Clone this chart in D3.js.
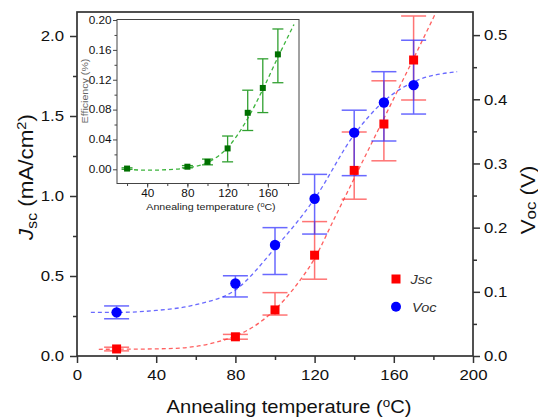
<!DOCTYPE html>
<html>
<head>
<meta charset="utf-8">
<script src="https://cdn.jsdelivr.net/npm/d3@7"></script>
<style>
  body { margin: 0; background: #fff; }
  svg { display: block; font-family: 'Liberation Sans', Arial, sans-serif; }
  .axis path { display: none; }
  .axis line { stroke: #333; stroke-width: 1.5; }
  .axis text { fill: #111; }
</style>
</head>
<body>
<svg id="chart" width="538" height="418"></svg>
<script>
// annealing temperatures of the measured samples
const temps = [20, 80, 100, 120, 140, 155, 170];

// short-circuit current density (mA/cm2) with error bar ends
const jsc   = [0.044, 0.12, 0.288, 0.63, 1.16, 1.45, 1.85];
const jscHi = [0.055, 0.135, 0.396, 0.84, 1.40, 1.72, 2.125];
const jscLo = [0.032, 0.105, 0.256, 0.48, 0.98, 1.22, 1.60];

// open-circuit voltage (V) with error bar ends
const voc   = [0.068, 0.113, 0.173, 0.245, 0.348, 0.395, 0.422];
const vocHi = [0.078, 0.125, 0.200, 0.283, 0.383, 0.443, 0.492];
const vocLo = [0.058, 0.092, 0.127, 0.190, 0.281, 0.335, 0.377];

// efficiency (%) for the inset
const eff   = [0.001, 0.0035, 0.010, 0.028, 0.0757, 0.109, 0.154];
const effHi = [0.002, 0.005, 0.0137, 0.0446, 0.106, 0.148, 0.188];
const effLo = [0.000, 0.002, 0.006, 0.010, 0.052, 0.076, 0.116];

// dashed guide curves
const jscFitT = [11, 30, 50, 60, 70, 80, 90, 100, 110, 120, 130, 140, 150, 160, 170, 181];
const jscFitV = [0.042, 0.043, 0.048, 0.06, 0.085, 0.125, 0.19, 0.29, 0.43, 0.61, 0.86, 1.11, 1.36, 1.61, 1.86, 2.14];
const vocFitT = [7, 20, 40, 60, 80, 100, 120, 140, 155, 170, 192];
const vocFitV = [0.068, 0.068, 0.071, 0.08, 0.103, 0.168, 0.245, 0.345, 0.397, 0.427, 0.443];
const effFitT = [20, 40, 60, 80, 100, 120, 140, 155, 170, 186];
const effFitV = [0.000, -0.0012, -0.0005, 0.002, 0.009, 0.029, 0.068, 0.107, 0.150, 0.194];

// tick labels
const xTicks = [0, 40, 80, 120, 160, 200];
const yTicks = [0, 0.5, 1.0, 1.5, 2.0];
const yRTicks = [0, 0.1, 0.2, 0.3, 0.4, 0.5];
const insetXTicks = [40, 80, 120, 160];
const insetYTicks = [0, 0.04, 0.08, 0.12, 0.16, 0.20];

const SX = 1.12; // the picture's text is a bit wider than Arial

const svg = d3.select('#chart');
const margin = { top: 12, right: 65, bottom: 62, left: 77 };
const W = 538, H = 418;

const x = d3.scaleLinear().domain([0, 200]).range([margin.left, W - margin.right]);
const y = d3.scaleLinear().domain([0, 2.15]).range([H - margin.bottom, margin.top]);
const yR = d3.scaleLinear().domain([0, 0.536]).range([H - margin.bottom, margin.top]);

function stretch(sel) {
  sel.each(function() {
    const t = d3.select(this);
    const tx = +t.attr('x') || 0;
    const ty = +t.attr('y') || 0;
    t.attr('x', 0).attr('y', 0)
      .attr('transform', `translate(${tx},${ty}) scale(${SX},1)`);
  });
}

function ticksBetween(a, b, step) {
  const out = [];
  for (let v = a; v <= b + 1e-9; v += step) out.push(+v.toFixed(4));
  return out;
}

// main axes
const bottom = H - margin.bottom;

svg.append('g').attr('class', 'axis')
  .attr('transform', `translate(0,${bottom})`)
  .call(d3.axisBottom(x).tickValues(ticksBetween(20, 180, 40)).tickSize(4).tickFormat(''));
svg.append('g').attr('class', 'axis')
  .attr('transform', `translate(0,${bottom})`)
  .call(d3.axisBottom(x).tickValues(xTicks).tickSize(7).tickPadding(6).tickFormat(d3.format('d')))
  .selectAll('text').style('font-size', '15px').call(stretch);

svg.append('g').attr('class', 'axis')
  .attr('transform', `translate(${margin.left},0)`)
  .call(d3.axisLeft(y).tickValues([0.25, 0.75, 1.25, 1.75]).tickSize(4).tickFormat(''));
svg.append('g').attr('class', 'axis')
  .attr('transform', `translate(${margin.left},0)`)
  .call(d3.axisLeft(y).tickValues(yTicks).tickSize(7).tickPadding(6).tickFormat(d3.format('.1f')))
  .selectAll('text').style('font-size', '15px').call(stretch);

svg.append('g').attr('class', 'axis')
  .attr('transform', `translate(${W - margin.right},0)`)
  .call(d3.axisRight(yR).tickValues([0.05, 0.15, 0.25, 0.35, 0.45]).tickSize(4).tickFormat(''));
svg.append('g').attr('class', 'axis')
  .attr('transform', `translate(${W - margin.right},0)`)
  .call(d3.axisRight(yR).tickValues(yRTicks).tickSize(7).tickPadding(4).tickFormat(d3.format('.1f')))
  .selectAll('text').style('font-size', '15px').call(stretch);

svg.append('rect')
  .attr('x', margin.left).attr('y', margin.top)
  .attr('width', W - margin.left - margin.right)
  .attr('height', H - margin.top - margin.bottom)
  .attr('fill', 'none').attr('stroke', '#333').attr('stroke-width', 1.7);

// axis titles
const xt = svg.append('text')
  .attr('text-anchor', 'middle').style('font-size', '18px').attr('fill', '#111')
  .attr('transform', `translate(289,413) scale(${SX},1)`);
xt.append('tspan').text('Annealing temperature (');
xt.append('tspan').text('o').style('font-size', '12px').attr('dy', -6);
xt.append('tspan').text('C)').attr('dy', 6);

const yt = svg.append('text')
  .attr('text-anchor', 'middle').style('font-size', '20px').attr('fill', '#111')
  .attr('transform', `translate(33,177) rotate(-90) scale(${SX},1)`);
yt.append('tspan').text('J').style('font-style', 'italic');
yt.append('tspan').text('sc').style('font-size', '14px').attr('dy', 4);
yt.append('tspan').text(' (mA/cm').attr('dy', -4);
yt.append('tspan').text('2').style('font-size', '13px').attr('dy', -7);
yt.append('tspan').text(')').attr('dy', 7);

const yrt = svg.append('text')
  .attr('text-anchor', 'middle').style('font-size', '20px').attr('fill', '#111')
  .attr('transform', `translate(535,200) rotate(-90) scale(${SX},1)`);
yrt.append('tspan').text('V');
yrt.append('tspan').text('oc').style('font-size', '15px').attr('dy', 1);
yrt.append('tspan').text(' (V)').attr('dy', -1);

// dashed fits
const fitLine = (sx, sy) => d3.line().x(d => sx(d[0])).y(d => sy(d[1])).curve(d3.curveMonotoneX);

svg.append('path')
  .datum(d3.zip(vocFitT, vocFitV))
  .attr('d', fitLine(x, yR))
  .attr('fill', 'none').attr('stroke', '#6a6aff').attr('stroke-width', 1.3)
  .attr('stroke-dasharray', '4,3');
svg.append('path')
  .datum(d3.zip(jscFitT, jscFitV))
  .attr('d', fitLine(x, y))
  .attr('fill', 'none').attr('stroke', '#ff6060').attr('stroke-width', 1.3)
  .attr('stroke-dasharray', '4,3');

// error bars
function errorBars(g, sx, sy, hi, lo, color, cap, width, opacity) {
  const eb = g.append('g').attr('stroke', color).attr('stroke-width', width).attr('opacity', opacity);
  temps.forEach((t, i) => {
    const cx = sx(t);
    eb.append('line').attr('x1', cx).attr('x2', cx).attr('y1', sy(hi[i])).attr('y2', sy(lo[i]));
    eb.append('line').attr('x1', cx - cap).attr('x2', cx + cap).attr('y1', sy(hi[i])).attr('y2', sy(hi[i]));
    eb.append('line').attr('x1', cx - cap).attr('x2', cx + cap).attr('y1', sy(lo[i])).attr('y2', sy(lo[i]));
  });
}

errorBars(svg, x, y, jscHi, jscLo, '#ff3a3a', 12.5, 1.5, 0.7);
errorBars(svg, x, yR, vocHi, vocLo, '#2a2aff', 12.5, 1.5, 0.7);

// markers
svg.append('g').selectAll('rect')
  .data(temps)
  .join('rect')
  .attr('x', (d, i) => x(d) - 4.5).attr('y', (d, i) => y(jsc[i]) - 4.5)
  .attr('width', 9).attr('height', 9).attr('fill', '#ff0000');

svg.append('g').selectAll('circle')
  .data(temps)
  .join('circle')
  .attr('cx', d => x(d)).attr('cy', (d, i) => yR(voc[i]))
  .attr('r', 5.2).attr('fill', '#0000ff');

// legend
svg.append('rect').attr('x', 391.5).attr('y', 274.5).attr('width', 9).attr('height', 9).attr('fill', '#ff0000');
svg.append('circle').attr('cx', 396).attr('cy', 306.7).attr('r', 5).attr('fill', '#0000ff');
svg.append('text').text('Jsc').style('font-size', '13px').style('font-style', 'italic').attr('fill', '#333')
  .attr('transform', `translate(410.5,283.5) scale(${SX},1)`);
svg.append('text').text('Voc').style('font-size', '13px').style('font-style', 'italic').attr('fill', '#333')
  .attr('transform', `translate(412,312) scale(${SX},1)`);

// inset: efficiency
const inset = { left: 117, right: 299, top: 19.5, bottom: 183.5 };
const ix = d3.scaleLinear().domain([10, 191]).range([inset.left, inset.right]);
const iy = d3.scaleLinear().domain([-0.019, 0.2007]).range([inset.bottom, inset.top]);
const ig = svg.append('g');

ig.append('rect')
  .attr('x', inset.left).attr('y', inset.top)
  .attr('width', inset.right - inset.left).attr('height', inset.bottom - inset.top)
  .attr('fill', '#fff').attr('stroke', '#444').attr('stroke-width', 1);

ig.append('g').attr('class', 'axis inset')
  .attr('transform', `translate(0,${inset.bottom})`)
  .call(d3.axisBottom(ix).tickValues(ticksBetween(20, 180, 20)).tickSize(2.5).tickFormat(''));
ig.append('g').attr('class', 'axis inset')
  .attr('transform', `translate(0,${inset.bottom})`)
  .call(d3.axisBottom(ix).tickValues(insetXTicks).tickSize(4).tickPadding(2).tickFormat(d3.format('d')))
  .selectAll('text').style('font-size', '10.5px').call(stretch);

ig.append('g').attr('class', 'axis inset')
  .attr('transform', `translate(${inset.left},0)`)
  .call(d3.axisLeft(iy).tickValues(ticksBetween(0.02, 0.18, 0.04)).tickSize(2.5).tickFormat(''));
ig.append('g').attr('class', 'axis inset')
  .attr('transform', `translate(${inset.left},0)`)
  .call(d3.axisLeft(iy).tickValues(insetYTicks).tickSize(4).tickPadding(1.5).tickFormat(d3.format('.2f')))
  .selectAll('text').style('font-size', '10.5px').call(stretch);

ig.selectAll('.inset line').style('stroke-width', 1).style('stroke', '#444');

const ixt = ig.append('text')
  .attr('text-anchor', 'middle').style('font-size', '9.5px').attr('fill', '#222')
  .attr('transform', `translate(211,209.5) scale(${SX},1)`);
ixt.append('tspan').text('Annealing temperature (');
ixt.append('tspan').text('o').style('font-size', '6.5px').attr('dy', -3);
ixt.append('tspan').text('C)').attr('dy', 3);

ig.append('text')
  .text('Efficiency (%)')
  .attr('text-anchor', 'middle').style('font-size', '9.5px').attr('fill', '#666')
  .attr('transform', `translate(87.5,91) rotate(-90) scale(${SX},1)`);

ig.append('path')
  .datum(d3.zip(effFitT, effFitV))
  .attr('d', fitLine(ix, iy))
  .attr('fill', 'none').attr('stroke', '#3cb43c').attr('stroke-width', 1.3)
  .attr('stroke-dasharray', '4,3');

(function() {
  const eb = ig.append('g').attr('stroke', '#30a030').attr('stroke-width', 1.3);
  temps.forEach((t, i) => {
    const cx = ix(t);
    eb.append('line').attr('x1', cx).attr('x2', cx).attr('y1', iy(effHi[i])).attr('y2', iy(effLo[i]));
    eb.append('line').attr('x1', cx - 5.5).attr('x2', cx + 5.5).attr('y1', iy(effHi[i])).attr('y2', iy(effHi[i]));
    eb.append('line').attr('x1', cx - 5.5).attr('x2', cx + 5.5).attr('y1', iy(effLo[i])).attr('y2', iy(effLo[i]));
  });
})();

ig.append('g').selectAll('rect')
  .data(temps)
  .join('rect')
  .attr('x', d => ix(d) - 3).attr('y', (d, i) => iy(eff[i]) - 3)
  .attr('width', 6).attr('height', 6).attr('fill', '#007000');
</script>
</body>
</html>
